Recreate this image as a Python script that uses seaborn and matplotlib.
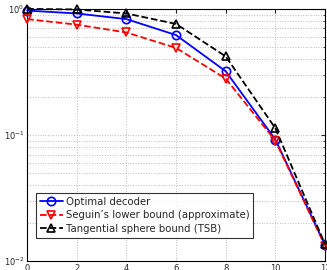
import numpy as np
import pandas as pd
import matplotlib
matplotlib.use("Agg")
import matplotlib.pyplot as plt
import seaborn as sns

# data
snr = [0, 2, 4, 6, 8, 10, 12]
optimal = [0.97, 0.92, 0.83, 0.62, 0.32, 0.092, 0.0134]
seguin = [0.83, 0.75, 0.65, 0.49, 0.28, 0.090, 0.0132]
tsb = [1.0, 0.99, 0.92, 0.76, 0.42, 0.113, 0.0136]

labels = ["Optimal decoder",
          "Seguin\u2019s lower bound (approximate)",
          "Tangential sphere bound (TSB)"]

sns.set_style("white")
plt.rcParams['font.family'] = ['DejaVu Sans']

df = pd.concat([
    pd.DataFrame({'x': snr, 'y': optimal, 'curve': labels[0]}),
    pd.DataFrame({'x': snr, 'y': seguin, 'curve': labels[1]}),
    pd.DataFrame({'x': snr, 'y': tsb, 'curve': labels[2]}),
])

fig = plt.figure(figsize=(3.27, 2.70), dpi=100)
ax = fig.add_axes([0.083, 0.033, 0.911, 0.934])

styles = {
    labels[0]: dict(color='#0000ff', marker='o', linestyle='-'),
    labels[1]: dict(color='#ff0000', marker='v', linestyle='--'),
    labels[2]: dict(color='#000000', marker='^', linestyle='--'),
}
for name in labels:
    st = styles[name]
    sns.lineplot(data=df[df['curve'] == name], x='x', y='y', ax=ax,
                 color=st['color'], marker=st['marker'], linestyle=st['linestyle'],
                 linewidth=1.3, markersize=6, markerfacecolor='none',
                 markeredgecolor=st['color'], markeredgewidth=1.2,
                 label=name, clip_on=False, zorder=3)

ax.set_yscale('log')
ax.set_xlim(0, 12)
ax.set_ylim(1e-2, 1)
ax.set_xticks(range(0, 13, 2))
ax.set_xlabel('')
ax.set_ylabel('Codeword error probability', fontsize=6, labelpad=2)
ax.tick_params(which='both', direction='in', labelsize=6, top=True, right=True, pad=2)
ax.tick_params(which='major', length=3)
ax.tick_params(which='minor', length=1.5)
ax.grid(True, which='major', linestyle=':', color='#bbbbbb', linewidth=0.7)
ax.grid(True, which='minor', axis='y', linestyle=':', color='#bbbbbb', linewidth=0.7)
for s in ax.spines.values():
    s.set_color('black')
    s.set_linewidth(0.8)

leg = ax.legend(loc='lower left', bbox_to_anchor=(0.02, 0.08), fontsize=7.3,
                frameon=True, fancybox=False, edgecolor='black',
                handlelength=2.2, borderpad=0.4, labelspacing=0.35, handletextpad=0.3,
                borderaxespad=0.3)
leg.get_frame().set_linewidth(0.8)

fig.savefig('out.png', dpi=100)
